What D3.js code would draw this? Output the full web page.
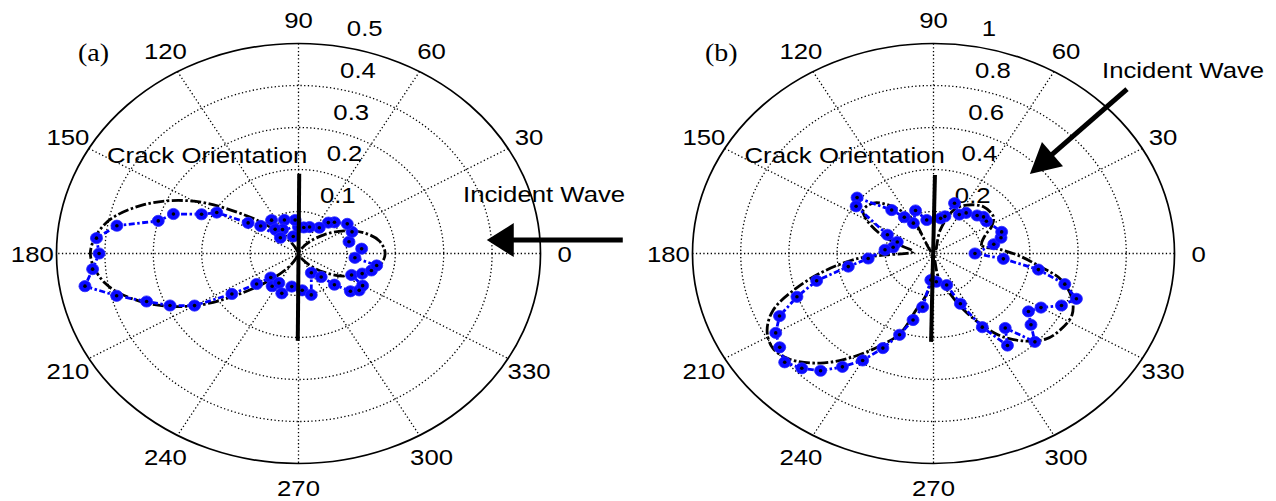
<!DOCTYPE html>
<html><head><meta charset="utf-8">
<script src="https://cdn.jsdelivr.net/npm/d3@7"></script>
<style>body{margin:0;background:#fff}svg{display:block}</style>
</head><body>
<svg id="chart" width="1276" height="501"></svg>
<script>
// ---------------- data ----------------
const spokeAngles = [0, 30, 60, 90, 120, 150];
const angleTickLabels = ["0","30","60","90","120","150","180","210","240","270","300","330"];
const angleTickValues = [0,30,60,90,120,150,180,210,240,270,300,330];

const ringTicksA = [0.1, 0.2, 0.3, 0.4, 0.5];
const ringLabelsA = ["0.1", "0.2", "0.3", "0.4", "0.5"];
const ringTicksB = [0.2, 0.4, 0.6, 0.8, 1];
const ringLabelsB = ["0.2", "0.4", "0.6", "0.8", "1"];

// (a) theory (black dash-dot)
const theoryAngleA = [0,10,20,30,40,50,60,70,90,110,120,130,140,150,160,170,180,190,200,210,220,230,240,250,270,290,300,310,320,330,340,350];
const theoryAmpA   = [0.179,0.170,0.144,0.108,0.070,0.038,0.016,0.004,0.0005,0.007,0.031,0.070,0.140,0.249,0.340,0.406,0.430,0.406,0.340,0.249,0.140,0.070,0.031,0.007,0.0005,0.004,0.016,0.038,0.070,0.108,0.144,0.170];

// (a) measured (blue markers)
const measAngleA = [5,15,25,35,45,50,55,70,80,90,95,105,110,120,125,130,135,140,145,150,155,160,165,170,175,180,185,190,195,200,205,210,215,220,225,235,240,250,260,275,285,300,310,315,320,325,330,335,340,345,350,355];
const measAmpA   = [0.131,0.108,0.122,0.123,0.105,0.096,0.075,0.067,0.063,0.063,0.080,0.042,0.085,0.066,0.097,0.075,0.053,0.102,0.127,0.195,0.221,0.275,0.300,0.381,0.419,0.412,0.427,0.448,0.389,0.334,0.293,0.248,0.168,0.113,0.081,0.095,0.081,0.101,0.080,0.088,0.102,0.053,0.073,0.105,0.140,0.153,0.153,0.121,0.140,0.156,0.164,0.117];

// (b) theory (black dash-dot)
const theoryAngleB = [4,11,22,28,35,47,59,68,76,90,118,127,136,145,150,157,164,174,182,184,190,196,202,208,214,220,228,235,243,250,255,262,266,270,280,288,295,301,306,313,319,325,333,340,347,352,358];
const theoryAmpB   = [0.277,0.204,0.231,0.273,0.304,0.304,0.269,0.223,0.115,0.001,0.180,0.278,0.346,0.357,0.320,0.242,0.145,0.084,0.194,0.306,0.450,0.589,0.717,0.782,0.805,0.782,0.702,0.607,0.496,0.405,0.278,0.192,0.110,0.001,0.112,0.182,0.296,0.405,0.491,0.571,0.620,0.639,0.645,0.610,0.540,0.446,0.359];

// (b) measured (blue markers)
const measAngleB = [0,10,15,20,35,40,45,55,60,70,75,80,100,110,120,125,130,140,145,155,160,170,175,185,190,195,200,205,210,215,220,225,230,235,240,245,250,255,260,265,275,290,295,300,305,310,315,320,325,330,335,340,345,350,355];
const measAmpB   = [0.172,0.254,0.290,0.301,0.268,0.271,0.256,0.236,0.214,0.255,0.183,0.170,0.162,0.218,0.167,0.211,0.270,0.414,0.392,0.211,0.160,0.170,0.202,0.272,0.359,0.502,0.603,0.705,0.756,0.779,0.806,0.773,0.729,0.659,0.588,0.497,0.412,0.328,0.259,0.127,0.135,0.160,0.264,0.405,0.535,0.463,0.595,0.528,0.481,0.515,0.586,0.631,0.564,0.442,0.291];

// crack orientation line end points (cartesian, data units)
const crackA = [[0.0015, 0.19], [-0.0015, -0.208]];
const crackB = [[0.006, 0.374], [-0.010, -0.421]];
// incident wave arrows (cartesian, data units): start, tip
const arrowA = [[0.670, 0.032], [0.389, 0.032]];
const arrowB = [[0.803, 0.783], [0.400, 0.379]];

// ---------------- layout ----------------
const svg = d3.select("#chart");
const FONT = "'Liberation Sans', Arial, sans-serif";
const SERIF = "'Liberation Serif', 'Times New Roman', serif";
const STRETCH = 1.12;
const FS = 23;

const panels = [
  {cx: 298.5, cy: 253.5, rx: 242, ry: 210, rmax: 0.5, rinc: 0.1,
   ticks: ringTicksA, tickLabels: ringLabelsA,
   tAng: theoryAngleA, tAmp: theoryAmpA, mAng: measAngleA, mAmp: measAmpA,
   crack: crackA, arrow: arrowA, head: [27, 17],
   letter: "(a)", letterPos: [78, 60.5], crackPos: [107, 162.5], incPos: [463, 201.5]},
  {cx: 933.5, cy: 253.5, rx: 241, ry: 210, rmax: 1, rinc: 0.2,
   ticks: ringTicksB, tickLabels: ringLabelsB,
   tAng: theoryAngleB, tAmp: theoryAmpB, mAng: measAngleB, mAmp: measAmpB,
   crack: crackB, arrow: arrowB, head: [30, 16],
   letter: "(b)", letterPos: [705, 60.5], crackPos: [744.5, 162.5], incPos: [1102, 77.5]}
];

function addText(g, str, x, y, opts) {
  opts = opts || {};
  return g.append("text")
    .attr("transform", `translate(${x},${y}) scale(${opts.stretch || STRETCH},1)`)
    .attr("x", 0).attr("y", 0)
    .attr("text-anchor", opts.anchor || "start")
    .attr("dominant-baseline", opts.baseline || "alphabetic")
    .attr("font-family", opts.family || FONT)
    .attr("font-size", opts.size || FS)
    .attr("fill", "#000")
    .text(str);
}

const rad = d => d * Math.PI / 180;

panels.forEach(p => {
  const g = svg.append("g");
  const x = d3.scaleLinear().domain([-p.rmax, p.rmax]).range([p.cx - p.rx, p.cx + p.rx]);
  const y = d3.scaleLinear().domain([-p.rmax, p.rmax]).range([p.cy + p.ry, p.cy - p.ry]);
  const px = (a, r) => x(r * Math.cos(rad(a)));
  const py = (a, r) => y(r * Math.sin(rad(a)));

  // dotted rings
  p.ticks.slice(0, -1).forEach(t => {
    g.append("ellipse")
      .attr("cx", x(0)).attr("cy", y(0))
      .attr("rx", x(t) - x(0)).attr("ry", y(0) - y(t))
      .attr("fill", "none").attr("stroke", "#000")
      .attr("stroke-width", 1.3).attr("stroke-dasharray", "1.3,2.4");
  });
  // dotted spokes
  spokeAngles.forEach(a => {
    g.append("line")
      .attr("x1", px(a, p.rmax)).attr("y1", py(a, p.rmax))
      .attr("x2", px(a + 180, p.rmax)).attr("y2", py(a + 180, p.rmax))
      .attr("stroke", "#000").attr("stroke-width", 1.3).attr("stroke-dasharray", "1.3,2.4");
  });
  // outer boundary
  g.append("ellipse")
    .attr("cx", x(0)).attr("cy", y(0))
    .attr("rx", x(p.rmax) - x(0)).attr("ry", y(0) - y(p.rmax))
    .attr("fill", "none").attr("stroke", "#000").attr("stroke-width", 1.7);

  // angle labels
  angleTickValues.forEach((a, i) => {
    const lx = x(1.1 * p.rmax * Math.cos(rad(a)));
    const ly = y(1.115 * p.rmax * Math.sin(rad(a))) + 0.5;
    addText(g, angleTickLabels[i], lx, ly, {anchor: "middle", baseline: "central"});
  });
  // ring labels (MATLAB style at 82 deg)
  p.ticks.forEach((t, i) => {
    const rr = t + p.rinc / 20;
    const ax = px(82, rr) + 2 * 0.278 * FS * STRETCH;
    const ay = py(82, rr) - 7;
    addText(g, p.tickLabels[i], ax, ay);
  });

  const toXY = (a, r) => [px(a, r), py(a, r)];

  // theory curve
  const tPts = p.tAng.map((a, i) => toXY(a, p.tAmp[i]));
  g.append("path")
    .attr("d", d3.line().curve(d3.curveCatmullRomClosed.alpha(0.5))(tPts))
    .attr("fill", "none").attr("stroke", "#000").attr("stroke-width", 2.8)
    .attr("stroke-dasharray", "11,2.5,2.5,2.5");

  // measured
  const mPts = p.mAng.map((a, i) => toXY(a, p.mAmp[i]));
  g.append("path")
    .attr("d", d3.line().curve(d3.curveLinearClosed)(mPts))
    .attr("fill", "none").attr("stroke", "#0000ff").attr("stroke-width", 2.8)
    .attr("stroke-dasharray", "6,2.5,2.5,2.5");
  g.selectAll("ellipse.m").data(mPts).enter().append("ellipse")
    .attr("class", "m")
    .attr("cx", d => d[0]).attr("cy", d => d[1])
    .attr("rx", 6).attr("ry", 5.6)
    .attr("fill", "#0a0aff").attr("stroke", "#2828ff").attr("stroke-width", 0.8);
  g.selectAll("circle.c").data(mPts).enter().append("circle")
    .attr("class", "c")
    .attr("cx", d => d[0]).attr("cy", d => d[1]).attr("r", 1.8)
    .attr("fill", "#000");

  // crack line
  g.append("line")
    .attr("x1", x(p.crack[0][0])).attr("y1", y(p.crack[0][1]))
    .attr("x2", x(p.crack[1][0])).attr("y2", y(p.crack[1][1]))
    .attr("stroke", "#000").attr("stroke-width", 4);

  // arrow
  const s = [x(p.arrow[0][0]), y(p.arrow[0][1])];
  const tp = [x(p.arrow[1][0]), y(p.arrow[1][1])];
  const dx = tp[0] - s[0], dy = tp[1] - s[1];
  const L = Math.hypot(dx, dy);
  const ux = dx / L, uy = dy / L;
  const hl = p.head[0], hw = p.head[1];
  const b = [tp[0] - ux * hl, tp[1] - uy * hl];
  g.append("line")
    .attr("x1", s[0]).attr("y1", s[1])
    .attr("x2", b[0] + ux * 2).attr("y2", b[1] + uy * 2)
    .attr("stroke", "#000").attr("stroke-width", 5);
  g.append("path")
    .attr("d", `M${tp[0]},${tp[1]}L${b[0] - uy * hw},${b[1] + ux * hw}L${b[0] + uy * hw},${b[1] - ux * hw}Z`)
    .attr("fill", "#000");

  // annotations
  addText(g, "Crack Orientation", p.crackPos[0], p.crackPos[1]);
  addText(g, "Incident Wave", p.incPos[0], p.incPos[1]);
  addText(g, p.letter, p.letterPos[0], p.letterPos[1], {family: SERIF, size: 25});
});
</script>
</body></html>
